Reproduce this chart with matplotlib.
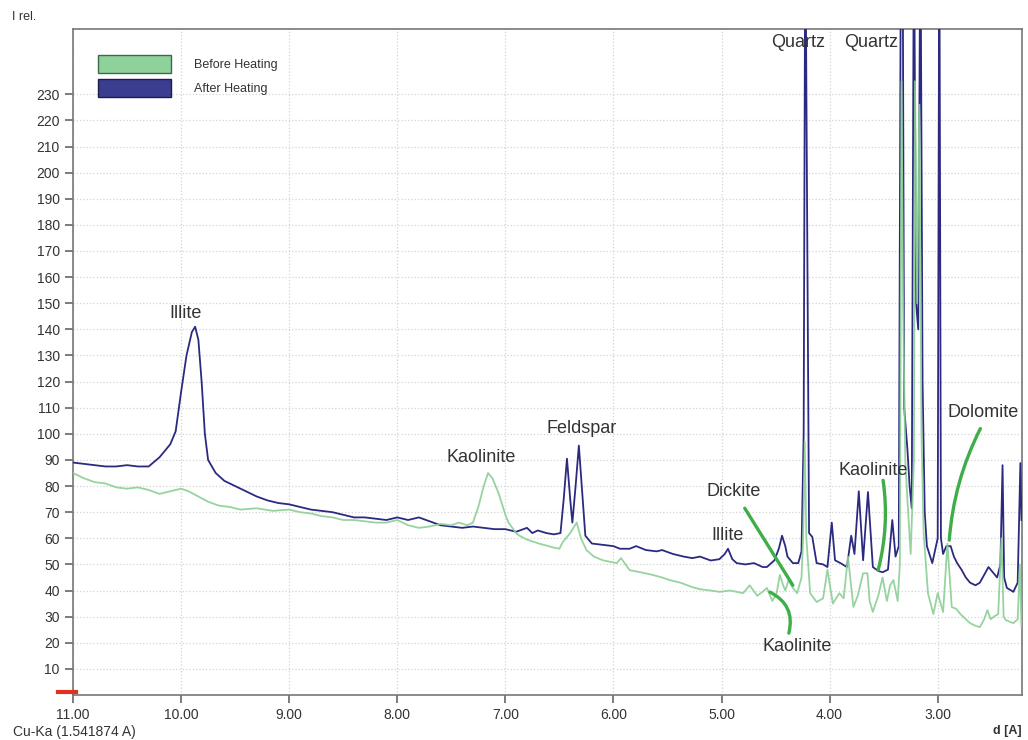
import matplotlib
matplotlib.use("Agg")
import matplotlib.pyplot as plt
from matplotlib.patches import Patch

plt.rcParams['font.family'] = ['Liberation Sans', 'DejaVu Sans']

# d-spacing (A) and relative intensity, after heating
after_d = [11.00, 10.90, 10.80, 10.70, 10.60, 10.50, 10.40, 10.30, 10.20, 10.10,
           10.05, 10.00, 9.95, 9.90, 9.87, 9.84, 9.81, 9.78, 9.75, 9.68,
           9.60, 9.50, 9.40, 9.30, 9.20, 9.10, 9.00, 8.90, 8.80, 8.70,
           8.60, 8.50, 8.40, 8.30, 8.20, 8.10, 8.00, 7.90, 7.80, 7.70,
           7.60, 7.50, 7.40, 7.30, 7.20, 7.10, 7.00, 6.90, 6.80, 6.75,
           6.70, 6.62, 6.55, 6.49, 6.46, 6.43, 6.40, 6.38, 6.35, 6.32,
           6.29, 6.26, 6.20, 6.10, 6.00, 5.94, 5.85, 5.79, 5.70, 5.60,
           5.55, 5.45, 5.35, 5.27, 5.20, 5.10, 5.02, 4.97, 4.94, 4.90,
           4.86, 4.78, 4.70, 4.62, 4.58, 4.51, 4.47, 4.44, 4.41, 4.39,
           4.34, 4.29, 4.26, 4.24, 4.225, 4.21, 4.19, 4.16, 4.12, 4.06,
           4.02, 3.98, 3.95, 3.90, 3.84, 3.80, 3.77, 3.73, 3.69, 3.645,
           3.60, 3.55, 3.51, 3.46, 3.42, 3.39, 3.36, 3.34, 3.325, 3.31,
           3.28, 3.26, 3.24, 3.22, 3.20, 3.18, 3.16, 3.14, 3.12, 3.10,
           3.05, 3.00, 2.985, 2.97, 2.95, 2.92, 2.88, 2.85, 2.82, 2.78,
           2.74, 2.70, 2.65, 2.61, 2.57, 2.53, 2.49, 2.45, 2.42, 2.40,
           2.385, 2.36, 2.30, 2.26, 2.235, 2.225]
after_i = [89, 88.5, 88, 87.5, 87.5, 88, 87.5, 87.5, 91, 96,
           101, 116, 130, 139, 141, 136, 120, 100, 90, 85,
           82, 80, 78, 76, 74.5, 73.5, 73, 72, 71, 70.5,
           70, 69, 68, 68, 67.5, 67, 68, 67, 68, 66.5,
           65, 64.5, 64, 64.5, 64, 63.5, 63.5, 62.5, 64, 62,
           63, 62, 61.5, 62, 75, 90.5, 75, 66, 80, 95.5,
           78, 61, 58, 57.5, 57, 56, 56, 57, 55.5, 55,
           55.5, 54, 53, 52.4, 53, 51.5, 52, 54, 56, 52,
           50.5, 50, 50.5, 49, 49, 51.6, 56, 61, 57, 53,
           50.5, 50.5, 55, 100, 300, 200, 62, 60.5, 50.5, 50,
           49, 66, 51.6, 50.5, 49, 61, 54, 78, 51.6, 77.7,
           49, 47.5, 47, 48, 67, 53, 57, 300, 300, 110,
           94, 80, 71.5, 300, 150, 140, 300, 120, 70, 57,
           50.5, 60, 300, 60, 54, 57, 57, 53, 50.5, 48,
           45, 43, 42, 43, 46, 49, 47, 45, 50, 88,
           45, 41, 39.5, 43, 88.8, 67]

# d-spacing (A) and relative intensity, before heating
before_d = [11.00, 10.90, 10.80, 10.70, 10.60, 10.50, 10.40, 10.30, 10.20, 10.10,
            10.00, 9.93, 9.84, 9.75, 9.65, 9.55, 9.45, 9.30, 9.15, 9.00,
            8.90, 8.80, 8.70, 8.60, 8.50, 8.40, 8.30, 8.20, 8.10, 8.00,
            7.90, 7.80, 7.70, 7.60, 7.50, 7.43, 7.35, 7.30, 7.25, 7.20,
            7.16, 7.12, 7.06, 7.00, 6.97, 6.90, 6.87, 6.80, 6.69, 6.60,
            6.57, 6.50, 6.47, 6.40, 6.34, 6.30, 6.25, 6.18, 6.10, 5.97,
            5.93, 5.85, 5.75, 5.64, 5.55, 5.48, 5.38, 5.27, 5.20, 5.10,
            5.02, 4.92, 4.80, 4.74, 4.67, 4.62, 4.58, 4.53, 4.49, 4.46,
            4.43, 4.41, 4.38, 4.34, 4.30, 4.26, 4.245, 4.23, 4.215, 4.18,
            4.12, 4.06, 4.02, 3.97, 3.91, 3.87, 3.83, 3.78, 3.74, 3.69,
            3.65, 3.63, 3.60, 3.55, 3.51, 3.47, 3.44, 3.41, 3.37, 3.35,
            3.335, 3.32, 3.30, 3.28, 3.25, 3.22, 3.21, 3.19, 3.17, 3.15,
            3.13, 3.09, 3.04, 3.00, 2.95, 2.91, 2.87, 2.83, 2.79, 2.74,
            2.70, 2.65, 2.61, 2.57, 2.54, 2.51, 2.48, 2.44, 2.41, 2.39,
            2.37, 2.33, 2.30, 2.26, 2.24, 2.225]
before_i = [85, 83, 81.5, 81, 79.5, 79, 79.5, 78.5, 77, 78,
            79, 78, 76, 74, 72.5, 72, 71, 71.5, 70.5, 71,
            70, 69.5, 68.5, 68, 67, 67, 66.5, 66, 66, 67,
            65, 64, 64.5, 65.5, 65, 66, 65, 66, 72, 80,
            85, 83, 77, 69, 66, 62, 61, 59.5, 58, 57,
            56.6, 56, 58.5, 62, 66, 60, 55.5, 53, 51.6, 50.5,
            52.4, 47.8, 47, 46, 45, 44, 43, 41.3, 40.5, 40,
            39.5, 40, 39, 42, 38, 39.5, 41, 36, 39, 46,
            42, 40, 44, 41, 39, 45, 60, 97, 60, 39,
            35.6, 37, 48, 35, 39, 37, 53, 33.7, 38, 46.6,
            46.6, 36, 31.8, 38, 45, 36, 42, 44, 36, 50,
            235, 150, 90, 74.6, 54, 90, 235, 150, 226, 100,
            62, 39, 31, 39, 31.8, 58, 33.7, 33, 31, 29,
            27.5, 26.5, 26, 29, 32.5, 29, 30, 31, 60, 30,
            28.7, 28, 27.5, 29, 50, 26]

y_ticks = list(range(10, 240, 10))
x_ticks = [11, 10, 9, 8, 7, 6, 5, 4, 3]

navy = '#2b2a80'
green = '#8ccf96'
marker_green = '#3fae49'
text_col = '#333333'

fig = plt.figure(figsize=(10.28, 7.4), dpi=100)
ax = fig.add_axes([73 / 1028, 45 / 740, 949 / 1028, 666 / 740])

ax.plot(after_d, after_i, color=navy, lw=1.3, zorder=3)
ax.plot(before_d, before_i, color=green, lw=1.3, alpha=0.9, zorder=4)

ax.set_xlim(11, 2.22)
ax.set_ylim(0, 255)
ax.set_xticks(x_ticks)
ax.set_xticklabels([f"{t:.2f}" for t in x_ticks])
ax.set_yticks(y_ticks)
ax.tick_params(direction='out', length=6, width=1.2, colors='#666666',
               labelcolor=text_col, labelsize=10)
ax.grid(True, linestyle=':', color='#d4d4d4', lw=0.9)
for s in ax.spines.values():
    s.set_color('#777777')
    s.set_linewidth(1.2)

# red marker at the origin
ax.plot([-0.016, 0.003], [0.004, 0.004], transform=ax.transAxes,
        color='#e0301e', lw=3, clip_on=False, zorder=6)

# peak labels
labels = [("Illite", 9.96, 146), ("Kaolinite", 7.22, 91), ("Feldspar", 6.29, 102),
          ("Quartz", 4.29, 250), ("Quartz", 3.62, 250), ("Dickite", 4.89, 78),
          ("Illite", 4.94, 61), ("Kaolinite", 4.30, 18.5), ("Kaolinite", 3.60, 86),
          ("Dolomite", 2.58, 108)]
for txt, x, y in labels:
    ax.text(x, y, txt, ha='center', va='center', fontsize=13, color=text_col, zorder=7)

# green pointer lines
pointers = [((4.785, 71.5), (4.34, 42), 0.0),
            ((4.553, 39.4), (4.377, 23.7), -0.4),
            ((3.505, 82.2), (3.551, 47.8), -0.1),
            ((2.605, 102), (2.893, 59.3), 0.1)]
for start, end, rad in pointers:
    ax.annotate('', xy=end, xytext=start,
                arrowprops=dict(arrowstyle='-', color=marker_green, lw=2.4,
                                connectionstyle=f'arc3,rad={rad}',
                                shrinkA=0, shrinkB=0), zorder=8)

handles = [Patch(facecolor='#8fd19a', edgecolor='#3d6b46', lw=1),
           Patch(facecolor='#3b3e90', edgecolor='#1d1d4d', lw=1)]
ax.legend(handles, ['Before Heating', 'After Heating'], loc='upper left',
          bbox_to_anchor=(0.020, 0.970), frameon=False, borderpad=0,
          handlelength=5.84, handleheight=1.8, labelspacing=0.5, handletextpad=1.84,
          fontsize=9, labelcolor=text_col)

fig.text(12 / 1028, 1 - 17 / 740, "I rel.", fontsize=9, color=text_col, va='center')
fig.text(13 / 1028, 1 - 732 / 740, "Cu-Ka (1.541874 A)", fontsize=10,
         color=text_col, va='center')
fig.text(1022 / 1028, 1 - 731 / 740, "d [A]", fontsize=9, fontweight='bold',
         color=text_col, va='center', ha='right')

fig.savefig("out.png", dpi=100, facecolor='white')
